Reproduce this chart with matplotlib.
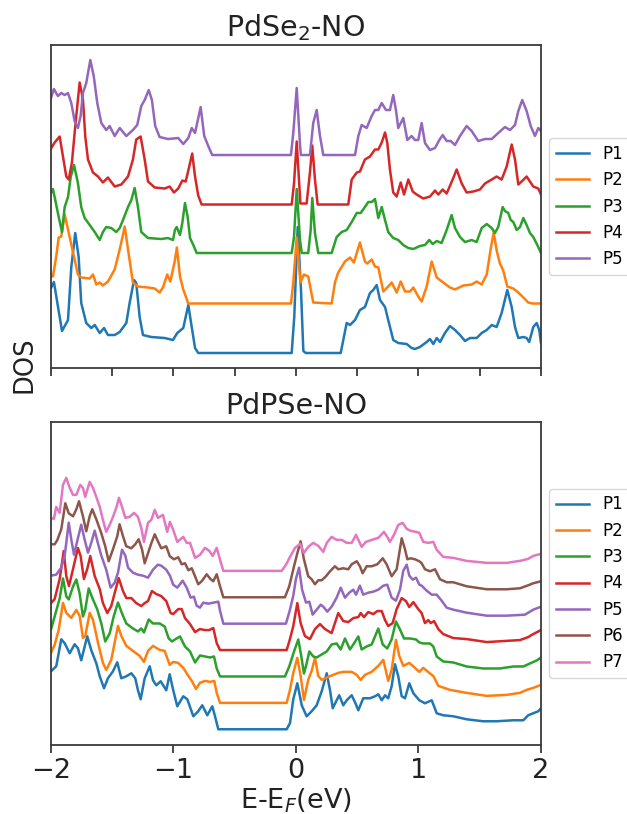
import matplotlib
matplotlib.use("Agg")
import matplotlib.pyplot as plt
import numpy as np

# projected DOS: (E - E_F in eV, DOS in arb. units above each curve's baseline)
SE2_P1 = [(-2.000, 65), (-1.976, 71), (-1.910, 22), (-1.861, 33), (-1.834, 86), (-1.802, 120), (-1.774, 96),
          (-1.753, 50), (-1.712, 30), (-1.671, 25), (-1.643, 28), (-1.602, 20), (-1.567, 25), (-1.535, 18),
          (-1.480, 18), (-1.439, 21), (-1.385, 30), (-1.358, 50), (-1.322, 73), (-1.304, 70), (-1.276, 36),
          (-1.249, 18), (-1.181, 16), (-1.072, 15), (-1.004, 13), (-0.969, 20), (-0.920, 25), (-0.879, 48),
          (-0.851, 26), (-0.824, 5), (-0.798, 0), (-0.035, 0), (-0.014, 36), (0.014, 126), (0.041, 63),
          (0.060, 2), (0.080, 0), (0.365, 0), (0.414, 30), (0.441, 28), (0.482, 33), (0.522, 43), (0.563, 46),
          (0.604, 60), (0.631, 63), (0.659, 68), (0.686, 53), (0.727, 46), (0.753, 33), (0.794, 13), (0.835, 10),
          (0.904, 9), (0.944, 5), (0.971, 4), (1.012, 6), (1.067, 11), (1.094, 14), (1.121, 9), (1.149, 15),
          (1.176, 11), (1.216, 20), (1.257, 27), (1.298, 23), (1.339, 18), (1.380, 12), (1.420, 15), (1.475, 15),
          (1.516, 20), (1.557, 23), (1.598, 28), (1.638, 26), (1.679, 40), (1.725, 63), (1.761, 46), (1.788, 26),
          (1.815, 15), (1.856, 16), (1.883, 15), (1.904, 11), (1.937, 26), (1.965, 30), (1.986, 23), (2.000, 10)]
SE2_P2 = [(-2.000, 29), (-1.984, 27), (-1.957, 47), (-1.937, 66), (-1.916, 67), (-1.888, 89), (-1.861, 74),
          (-1.820, 51), (-1.780, 29), (-1.753, 26), (-1.684, 25), (-1.657, 29), (-1.630, 19), (-1.602, 21),
          (-1.576, 18), (-1.535, 22), (-1.480, 34), (-1.439, 54), (-1.398, 77), (-1.371, 54), (-1.331, 21),
          (-1.290, 17), (-1.208, 16), (-1.153, 15), (-1.113, 11), (-1.086, 16), (-1.051, 29), (-1.026, 22),
          (-0.990, 42), (-0.972, 56), (-0.947, 27), (-0.920, 14), (-0.879, 0), (-0.041, 0), (-0.022, 21),
          (0.006, 66), (0.036, 21), (0.065, 29), (0.100, 27), (0.141, 1), (0.291, 0), (0.318, 21), (0.345, 31),
          (0.400, 42), (0.441, 46), (0.473, 41), (0.522, 61), (0.563, 42), (0.582, 40), (0.618, 44), (0.645, 37),
          (0.672, 36), (0.713, 12), (0.753, 17), (0.781, 21), (0.822, 11), (0.855, 22), (0.890, 12), (0.931, 12),
          (0.958, 16), (0.998, 7), (1.026, 2), (1.067, 17), (1.108, 42), (1.149, 26), (1.202, 21), (1.257, 16),
          (1.298, 14), (1.366, 18), (1.434, 19), (1.475, 22), (1.516, 19), (1.557, 29), (1.590, 55), (1.614, 71),
          (1.640, 52), (1.665, 40), (1.692, 33), (1.725, 17), (1.774, 15), (1.815, 11), (1.856, 6), (1.896, 1),
          (1.930, 0), (2.000, 0)]
SE2_P3 = [(-2.000, 61), (-1.984, 65), (-1.965, 54), (-1.937, 37), (-1.910, 22), (-1.888, 47), (-1.861, 57),
          (-1.839, 77), (-1.812, 89), (-1.780, 71), (-1.753, 47), (-1.725, 36), (-1.684, 29), (-1.643, 22),
          (-1.602, 14), (-1.576, 22), (-1.549, 27), (-1.508, 26), (-1.467, 22), (-1.439, 26), (-1.412, 34),
          (-1.371, 47), (-1.344, 54), (-1.317, 66), (-1.290, 47), (-1.263, 22), (-1.208, 16), (-1.100, 15),
          (-1.045, 16), (-1.004, 14), (-0.988, 24), (-0.974, 27), (-0.947, 19), (-0.928, 31), (-0.906, 51),
          (-0.884, 37), (-0.865, 16), (-0.838, 9), (-0.811, 1), (-0.035, 1), (-0.016, 17), (0.006, 65),
          (0.033, 14), (0.047, 1), (0.100, 1), (0.120, 24), (0.133, 56), (0.155, 21), (0.182, 1), (0.291, 1),
          (0.332, 17), (0.373, 22), (0.414, 24), (0.455, 32), (0.496, 41), (0.528, 41), (0.563, 47), (0.590, 52),
          (0.618, 52), (0.645, 55), (0.672, 36), (0.700, 47), (0.727, 34), (0.753, 22), (0.794, 16), (0.835, 14),
          (0.876, 9), (0.917, 6), (0.958, 5), (1.012, 8), (1.053, 9), (1.088, 14), (1.116, 10), (1.149, 13),
          (1.189, 11), (1.230, 24), (1.271, 39), (1.298, 26), (1.339, 17), (1.380, 12), (1.434, 14), (1.475, 12),
          (1.516, 26), (1.557, 30), (1.598, 26), (1.624, 21), (1.651, 27), (1.687, 47), (1.706, 43), (1.733, 41),
          (1.753, 34), (1.774, 32), (1.802, 24), (1.829, 27), (1.856, 36), (1.883, 29), (1.910, 21), (1.937, 17),
          (1.970, 9), (2.000, 1)]
SE2_P4 = [(-2.000, 56), (-1.970, 62), (-1.929, 68), (-1.902, 48), (-1.875, 28), (-1.855, 25), (-1.829, 42),
          (-1.802, 78), (-1.766, 122), (-1.739, 105), (-1.720, 68), (-1.698, 45), (-1.657, 32), (-1.616, 28),
          (-1.576, 22), (-1.535, 27), (-1.480, 18), (-1.426, 20), (-1.371, 28), (-1.331, 45), (-1.304, 65),
          (-1.268, 68), (-1.235, 45), (-1.208, 23), (-1.153, 17), (-1.072, 16), (-1.031, 18), (-0.996, 12),
          (-0.961, 16), (-0.928, 24), (-0.900, 23), (-0.879, 34), (-0.847, 51), (-0.824, 28), (-0.798, 9),
          (-0.770, 0), (-0.035, 0), (-0.016, 21), (0.006, 63), (0.036, 1), (0.087, 1), (0.114, 32), (0.133, 59),
          (0.155, 25), (0.177, 0), (0.427, 0), (0.455, 25), (0.496, 32), (0.522, 33), (0.563, 45), (0.604, 48),
          (0.645, 55), (0.672, 55), (0.700, 62), (0.727, 72), (0.745, 62), (0.767, 35), (0.794, 12), (0.822, 8),
          (0.855, 22), (0.882, 10), (0.917, 25), (0.953, 13), (0.985, 10), (1.039, 6), (1.094, 8), (1.135, 14),
          (1.162, 10), (1.198, 15), (1.230, 11), (1.279, 25), (1.312, 35), (1.353, 21), (1.393, 12), (1.447, 13),
          (1.502, 15), (1.543, 21), (1.598, 25), (1.638, 28), (1.679, 25), (1.720, 38), (1.761, 60), (1.788, 45),
          (1.815, 20), (1.842, 23), (1.883, 28), (1.910, 23), (1.937, 18), (1.978, 16), (2.000, 10)]
SE2_P5 = [(-2.000, 57), (-1.976, 66), (-1.943, 59), (-1.916, 62), (-1.888, 60), (-1.861, 62), (-1.834, 52),
          (-1.807, 34), (-1.780, 27), (-1.758, 39), (-1.739, 62), (-1.712, 72), (-1.679, 95), (-1.651, 79),
          (-1.622, 52), (-1.589, 32), (-1.549, 25), (-1.521, 29), (-1.480, 19), (-1.439, 27), (-1.385, 19),
          (-1.331, 25), (-1.296, 30), (-1.263, 49), (-1.235, 55), (-1.202, 65), (-1.176, 55), (-1.149, 29),
          (-1.113, 18), (-1.045, 16), (-0.961, 17), (-0.920, 11), (-0.879, 17), (-0.851, 27), (-0.824, 22),
          (-0.778, 48), (-0.749, 19), (-0.716, 9), (-0.684, 0), (-0.041, 0), (-0.022, 22), (0.006, 67),
          (0.033, 10), (0.040, 0), (0.114, 0), (0.141, 32), (0.169, 45), (0.196, 19), (0.223, 0), (0.482, 0),
          (0.509, 19), (0.536, 30), (0.577, 27), (0.618, 39), (0.645, 45), (0.672, 45), (0.700, 52), (0.735, 45),
          (0.767, 45), (0.794, 60), (0.816, 45), (0.835, 27), (0.876, 37), (0.909, 15), (0.944, 19), (0.971, 15),
          (0.998, 15), (1.026, 32), (1.053, 12), (1.094, 5), (1.135, 7), (1.170, 15), (1.198, 20), (1.230, 14),
          (1.263, 14), (1.298, 10), (1.339, 19), (1.393, 29), (1.434, 24), (1.488, 14), (1.543, 16), (1.598, 16),
          (1.651, 22), (1.706, 28), (1.747, 25), (1.788, 30), (1.815, 44), (1.847, 55), (1.883, 44), (1.916, 29),
          (1.951, 19), (1.978, 27), (2.000, 24)]

PSE_P1 = [(-2.000, 58), (-1.957, 63), (-1.916, 90), (-1.888, 86), (-1.847, 76), (-1.807, 85), (-1.780, 81),
          (-1.753, 69), (-1.704, 93), (-1.671, 79), (-1.630, 66), (-1.602, 53), (-1.567, 41), (-1.535, 51),
          (-1.494, 58), (-1.459, 67), (-1.426, 51), (-1.385, 53), (-1.344, 56), (-1.312, 51), (-1.290, 39),
          (-1.268, 30), (-1.235, 51), (-1.194, 63), (-1.167, 49), (-1.140, 44), (-1.104, 48), (-1.059, 39),
          (-1.031, 55), (-1.002, 39), (-0.969, 23), (-0.920, 33), (-0.887, 30), (-0.838, 13), (-0.798, 18),
          (-0.765, 24), (-0.724, 14), (-0.683, 23), (-0.661, 13), (-0.634, 0), (-0.076, 0), (-0.049, 6),
          (-0.022, 30), (0.011, 46), (0.047, 24), (0.087, 13), (0.128, 18), (0.169, 24), (0.210, 38), (0.251, 56),
          (0.278, 39), (0.300, 21), (0.332, 29), (0.353, 34), (0.386, 24), (0.414, 29), (0.455, 34), (0.482, 27),
          (0.509, 19), (0.549, 31), (0.604, 31), (0.645, 33), (0.672, 35), (0.700, 29), (0.727, 34), (0.753, 31),
          (0.781, 43), (0.808, 65), (0.835, 53), (0.863, 33), (0.890, 31), (0.925, 46), (0.958, 36), (1.007, 29),
          (1.053, 26), (1.108, 29), (1.127, 23), (1.149, 16), (1.202, 14), (1.284, 13), (1.393, 10), (1.529, 8),
          (1.638, 8), (1.774, 9), (1.856, 9), (1.896, 14), (1.937, 16), (1.978, 18), (2.000, 21)]
PSE_P2 = [(-2.000, 50), (-1.970, 58), (-1.937, 73), (-1.902, 100), (-1.875, 90), (-1.834, 85), (-1.793, 93),
          (-1.766, 87), (-1.739, 65), (-1.720, 67), (-1.684, 90), (-1.657, 83), (-1.616, 60), (-1.576, 40),
          (-1.549, 33), (-1.508, 43), (-1.453, 77), (-1.426, 67), (-1.385, 57), (-1.331, 52), (-1.276, 47),
          (-1.241, 41), (-1.208, 52), (-1.167, 57), (-1.113, 53), (-1.072, 52), (-1.031, 38), (-1.002, 41),
          (-0.961, 40), (-0.920, 35), (-0.879, 27), (-0.851, 22), (-0.816, 14), (-0.784, 20), (-0.743, 22),
          (-0.702, 21), (-0.667, 22), (-0.647, 10), (-0.620, 0), (-0.076, 0), (-0.049, 13), (-0.022, 30),
          (0.011, 45), (0.038, 27), (0.065, 3), (0.100, 23), (0.128, 32), (0.155, 45), (0.182, 27), (0.210, 23),
          (0.264, 26), (0.304, 28), (0.345, 30), (0.386, 31), (0.455, 31), (0.496, 28), (0.528, 23), (0.563, 28),
          (0.618, 31), (0.672, 37), (0.713, 43), (0.753, 22), (0.781, 33), (0.816, 63), (0.843, 47), (0.876, 37),
          (0.925, 40), (0.971, 35), (1.007, 31), (1.039, 35), (1.108, 28), (1.121, 27), (1.162, 17), (1.257, 13),
          (1.393, 10), (1.557, 7), (1.720, 8), (1.829, 10), (1.883, 13), (1.937, 15), (2.000, 18)]
PSE_P3 = [(-2.000, 47), (-1.970, 60), (-1.929, 78), (-1.902, 98), (-1.875, 80), (-1.855, 77), (-1.820, 90),
          (-1.793, 97), (-1.766, 83), (-1.739, 60), (-1.720, 67), (-1.692, 88), (-1.657, 77), (-1.622, 67),
          (-1.589, 53), (-1.557, 35), (-1.521, 43), (-1.488, 60), (-1.453, 74), (-1.420, 63), (-1.385, 53),
          (-1.331, 48), (-1.290, 45), (-1.263, 48), (-1.241, 44), (-1.202, 57), (-1.167, 53), (-1.113, 53),
          (-1.072, 50), (-1.039, 38), (-1.012, 35), (-0.988, 37), (-0.947, 40), (-0.906, 30), (-0.865, 25),
          (-0.824, 14), (-0.784, 21), (-0.743, 20), (-0.702, 19), (-0.669, 20), (-0.647, 8), (-0.620, 0),
          (-0.090, 0), (-0.055, 10), (-0.016, 25), (0.019, 37), (0.041, 22), (0.065, 3), (0.087, 13), (0.109, 25),
          (0.141, 20), (0.169, 19), (0.210, 22), (0.251, 25), (0.291, 32), (0.332, 33), (0.365, 27), (0.400, 38),
          (0.441, 27), (0.468, 32), (0.509, 40), (0.536, 27), (0.577, 30), (0.618, 32), (0.672, 48), (0.708, 32),
          (0.745, 28), (0.781, 37), (0.816, 55), (0.849, 47), (0.882, 38), (0.931, 38), (0.980, 37), (1.007, 34),
          (1.039, 33), (1.094, 33), (1.121, 30), (1.149, 20), (1.202, 15), (1.284, 14), (1.393, 10), (1.529, 8),
          (1.665, 8), (1.774, 10), (1.856, 10), (1.910, 13), (1.965, 16), (2.000, 19)]
PSE_P4 = [(-2.000, 47), (-1.970, 51), (-1.929, 71), (-1.896, 99), (-1.875, 74), (-1.853, 64), (-1.820, 81),
          (-1.780, 102), (-1.758, 94), (-1.731, 71), (-1.704, 81), (-1.679, 94), (-1.643, 74), (-1.602, 61),
          (-1.576, 47), (-1.540, 37), (-1.508, 44), (-1.480, 57), (-1.447, 72), (-1.412, 59), (-1.385, 52),
          (-1.344, 52), (-1.304, 47), (-1.263, 44), (-1.235, 47), (-1.208, 49), (-1.176, 59), (-1.140, 56),
          (-1.100, 54), (-1.059, 49), (-1.023, 37), (-1.002, 36), (-0.961, 41), (-0.933, 41), (-0.906, 32),
          (-0.865, 26), (-0.824, 18), (-0.784, 21), (-0.743, 20), (-0.708, 20), (-0.675, 22), (-0.647, 7),
          (-0.620, 0), (-0.076, 0), (-0.049, 11), (-0.022, 24), (0.011, 47), (0.038, 27), (0.073, 14), (0.114, 11),
          (0.155, 21), (0.196, 26), (0.237, 21), (0.291, 17), (0.318, 27), (0.345, 37), (0.386, 29), (0.427, 28),
          (0.468, 32), (0.509, 33), (0.528, 37), (0.555, 33), (0.590, 38), (0.631, 36), (0.664, 39), (0.700, 39),
          (0.727, 30), (0.753, 24), (0.789, 27), (0.822, 41), (0.863, 52), (0.898, 49), (0.925, 43), (0.958, 48),
          (0.998, 41), (1.026, 37), (1.053, 27), (1.080, 30), (1.100, 27), (1.127, 29), (1.162, 21), (1.202, 16),
          (1.284, 12), (1.393, 11), (1.557, 8), (1.692, 9), (1.829, 10), (1.896, 13), (1.937, 16), (2.000, 20)]
PSE_P5 = [(-2.000, 48), (-1.957, 49), (-1.916, 56), (-1.888, 68), (-1.855, 101), (-1.834, 84), (-1.812, 69),
          (-1.785, 83), (-1.753, 99), (-1.725, 84), (-1.698, 71), (-1.671, 81), (-1.643, 93), (-1.616, 80),
          (-1.589, 68), (-1.549, 54), (-1.513, 36), (-1.480, 41), (-1.453, 51), (-1.420, 74), (-1.393, 68),
          (-1.371, 56), (-1.331, 51), (-1.290, 49), (-1.249, 48), (-1.208, 46), (-1.167, 54), (-1.127, 59),
          (-1.100, 58), (-1.059, 54), (-1.029, 48), (-1.002, 39), (-0.969, 36), (-0.925, 43), (-0.892, 36),
          (-0.860, 26), (-0.833, 27), (-0.811, 18), (-0.784, 16), (-0.757, 21), (-0.716, 20), (-0.675, 21),
          (-0.634, 22), (-0.620, 13), (-0.593, 0), (-0.082, 0), (-0.049, 14), (-0.022, 28), (0.000, 45),
          (0.025, 56), (0.050, 34), (0.082, 21), (0.109, 22), (0.136, 9), (0.169, 14), (0.202, 19), (0.223, 17),
          (0.256, 12), (0.291, 17), (0.332, 26), (0.365, 36), (0.400, 26), (0.435, 31), (0.468, 34), (0.490, 29),
          (0.522, 38), (0.549, 29), (0.590, 31), (0.631, 32), (0.672, 34), (0.713, 38), (0.745, 39), (0.781, 26),
          (0.816, 23), (0.849, 34), (0.876, 53), (0.904, 59), (0.925, 48), (0.953, 44), (0.980, 46), (1.007, 39),
          (1.026, 38), (1.067, 33), (1.108, 29), (1.149, 29), (1.189, 23), (1.230, 16), (1.284, 14), (1.393, 11),
          (1.557, 8), (1.720, 8), (1.869, 9), (1.937, 14), (2.000, 17)]
PSE_P6 = [(-2.000, 53), (-1.970, 53), (-1.949, 57), (-1.916, 68), (-1.883, 94), (-1.855, 84), (-1.820, 81),
          (-1.793, 88), (-1.771, 96), (-1.739, 81), (-1.712, 66), (-1.684, 81), (-1.663, 88), (-1.630, 78),
          (-1.589, 64), (-1.557, 51), (-1.529, 36), (-1.494, 48), (-1.459, 61), (-1.440, 73), (-1.412, 61),
          (-1.385, 51), (-1.344, 49), (-1.312, 53), (-1.284, 58), (-1.257, 48), (-1.235, 34), (-1.208, 44),
          (-1.181, 54), (-1.153, 63), (-1.127, 56), (-1.100, 49), (-1.059, 51), (-1.030, 41), (-0.996, 38),
          (-0.961, 40), (-0.933, 33), (-0.906, 34), (-0.878, 27), (-0.851, 29), (-0.824, 21), (-0.798, 13),
          (-0.770, 16), (-0.729, 23), (-0.696, 18), (-0.675, 16), (-0.647, 23), (-0.620, 11), (-0.593, 0),
          (-0.090, 0), (-0.055, 11), (-0.016, 31), (0.011, 44), (0.038, 56), (0.065, 38), (0.100, 21), (0.128, 18),
          (0.155, 13), (0.182, 17), (0.210, 17), (0.245, 21), (0.278, 26), (0.318, 31), (0.345, 28), (0.386, 29),
          (0.427, 28), (0.455, 33), (0.496, 36), (0.522, 31), (0.544, 24), (0.577, 31), (0.618, 31), (0.664, 33),
          (0.708, 39), (0.740, 33), (0.781, 21), (0.822, 28), (0.863, 59), (0.890, 48), (0.909, 38), (0.936, 39),
          (0.971, 38), (1.007, 36), (1.026, 34), (1.053, 28), (1.094, 26), (1.135, 28), (1.176, 18), (1.230, 15),
          (1.284, 15), (1.393, 11), (1.557, 8), (1.720, 8), (1.829, 9), (1.896, 12), (1.937, 14), (2.000, 16)]
PSE_P7 = [(-2.000, 53), (-1.976, 52), (-1.957, 64), (-1.929, 58), (-1.902, 86), (-1.875, 93), (-1.847, 83),
          (-1.820, 76), (-1.793, 76), (-1.761, 86), (-1.739, 83), (-1.720, 74), (-1.684, 89), (-1.657, 83),
          (-1.630, 74), (-1.602, 64), (-1.576, 51), (-1.549, 39), (-1.521, 46), (-1.494, 54), (-1.467, 63),
          (-1.445, 73), (-1.420, 64), (-1.393, 53), (-1.358, 54), (-1.322, 58), (-1.290, 54), (-1.263, 43),
          (-1.241, 29), (-1.208, 48), (-1.181, 51), (-1.153, 61), (-1.127, 53), (-1.086, 56), (-1.051, 39),
          (-1.029, 49), (-1.002, 41), (-0.969, 29), (-0.920, 34), (-0.892, 28), (-0.865, 28), (-0.824, 13),
          (-0.784, 16), (-0.743, 23), (-0.708, 20), (-0.680, 15), (-0.647, 23), (-0.615, 9), (-0.593, 0),
          (-0.117, 0), (-0.082, 6), (-0.049, 14), (-0.008, 23), (0.033, 27), (0.065, 18), (0.100, 24), (0.141, 28),
          (0.182, 25), (0.223, 19), (0.251, 28), (0.291, 34), (0.332, 31), (0.373, 31), (0.414, 28), (0.455, 28),
          (0.490, 36), (0.517, 29), (0.536, 24), (0.571, 29), (0.618, 31), (0.672, 33), (0.718, 39), (0.745, 34),
          (0.767, 29), (0.800, 36), (0.835, 46), (0.871, 48), (0.904, 42), (0.936, 40), (0.980, 39), (1.007, 38),
          (1.039, 29), (1.080, 28), (1.121, 29), (1.149, 21), (1.202, 14), (1.284, 13), (1.393, 10), (1.557, 8),
          (1.720, 8), (1.829, 10), (1.896, 12), (1.937, 15), (2.000, 17)]

SE2_CURVES = [SE2_P1, SE2_P2, SE2_P3, SE2_P4, SE2_P5]
PSE_CURVES = [PSE_P1, PSE_P2, PSE_P3, PSE_P4, PSE_P5, PSE_P6, PSE_P7]
SE2_STEP = 49.5   # vertical shift between stacked curves
PSE_STEP = 26.4

SPINE = "#3a3a3a"


def draw_panel(ax, curves, step, title, ylim):
    for i, pts in enumerate(curves):
        e, dos = np.array(pts).T
        ax.plot(e, dos + i * step, lw=1.8, label=f"P{i + 1}", solid_joinstyle="round")
    ax.set_xlim(-2, 2)
    ax.set_ylim(*ylim)
    ax.set_yticks([])
    ax.set_title(title, fontsize=20.5, color="#222222")
    for s in ax.spines.values():
        s.set_color(SPINE)
        s.set_linewidth(1.3)
    ax.tick_params(axis="x", direction="out", length=6, width=1.3, color=SPINE,
                   labelsize=19.5, labelcolor="#222222")
    ax.legend(loc="center left", bbox_to_anchor=(1.0, 0.5), fontsize=12)


fig = plt.figure(figsize=(6.27, 8.14), dpi=100)
ax1 = fig.add_axes([0.0813, 0.5479, 0.7815, 0.3968])
ax2 = fig.add_axes([0.0813, 0.0848, 0.7815, 0.3968])

draw_panel(ax1, SE2_CURVES, SE2_STEP, "PdSe$_2$-NO", (-15, 308))
ax1.set_xticks(np.arange(-2, 2.01, 0.5))
ax1.tick_params(axis="x", labelbottom=False)

draw_panel(ax2, PSE_CURVES, PSE_STEP, "PdPSe-NO", (-15.7, 307.3))
ax2.set_xticks([-2, -1, 0, 1, 2])
ax2.set_xlabel("E-E$_F$(eV)", fontsize=19.5, color="#222222", labelpad=2)

fig.text(24 / 627, 1 - 365 / 814, "DOS", rotation=90, ha="center", va="center",
         fontsize=18.5, color="#222222")

fig.savefig("out.png", dpi=100)
